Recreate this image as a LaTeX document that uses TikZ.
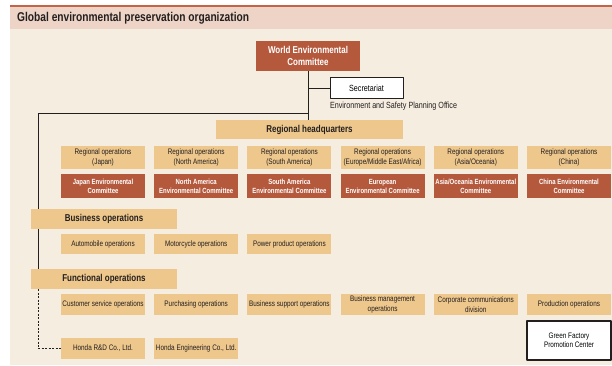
\documentclass[tikz,border=0pt]{standalone}
\usepackage{fontspec}
\setmainfont{Liberation Sans}[FakeStretch=0.8]
\usepackage{tikz}
\usetikzlibrary{arrows,shapes}
\pgfdeclarelayer{back}
\pgfdeclarelayer{edges}
\pgfsetlayers{back,edges,main}

\begin{document}
\begin{tikzpicture}[>=latex,line join=bevel,
  opbox/.style={fill=tancol,text=inkcol,inner sep=0pt,align=center,minimum width=84bp,font=\fontsize{8}{9.5}\selectfont},
  cmtbox/.style={fill=redcol,text=white,inner sep=0pt,align=center,minimum width=84bp,minimum height=24bp,font=\bfseries\fontsize{7.5}{9}\selectfont},
  headbox/.style={fill=tancol,text=inkcol,inner sep=0pt,minimum width=146bp,minimum height=20bp,font=\bfseries\fontsize{10}{12}\selectfont},
  whitebox/.style={fill=white,draw=inkcol,inner sep=0pt,align=center,font=\fontsize{8}{9.5}\selectfont}]
  \pgfsetlinewidth{1.2bp}
  \definecolor{tancol}{rgb}{0.93,0.78,0.55}
  \definecolor{redcol}{rgb}{0.71,0.35,0.24}
  \definecolor{inkcol}{rgb}{0.14,0.12,0.12}
  \useasboundingbox (0bp,0bp) rectangle (612bp,366bp);
%%
\begin{pgfonlayer}{back}
\begin{scope}
  \definecolor{fillcol}{rgb}{0.96,0.93,0.88};
  \fill [fillcol] (10bp,1bp) rectangle (612bp,337bp);
  \definecolor{fillcol}{rgb}{0.93,0.83,0.78};
  \fill [fillcol] (10bp,337bp) rectangle (612bp,359bp);
  \definecolor{strokecol}{rgb}{0.77,0.39,0.27};
  \draw [strokecol,line width=2bp] (10bp,360bp) -- (612bp,360bp);
\end{scope}
\end{pgfonlayer}
  % Node: title
  \node [anchor=base west,inner sep=0pt,text=inkcol,font=\bfseries\fontsize{12.8}{15}\selectfont] (title) at (17bp,344.5bp) {Global environmental preservation organization};
  % Node: wec
  \node [cmtbox,minimum width=104bp,minimum height=30bp,font=\bfseries\fontsize{10}{11.5}\selectfont] (wec) at (308bp,310bp) {World Environmental\\Committee};
  % Node: sec
  \node [whitebox,minimum width=73bp,minimum height=21bp,font=\fontsize{9}{11}\selectfont] (sec) at (366.5bp,278bp) {Secretariat};
  \node [anchor=west,inner sep=0pt,text=inkcol,font=\fontsize{9}{11}\selectfont] (espo) at (sec.west |- 0bp,260bp) {Environment and Safety Planning Office};
  % Node: rhq
  \node [headbox,minimum width=187bp,minimum height=19bp] (rhq) at (309.5bp,236.5bp) {Regional headquarters};
%%
  % Node: regional operations
  \node [opbox,minimum height=23bp] (rjp) at (103bp,208.5bp) {Regional operations\\(Japan)};
  \node [opbox,minimum height=23bp] (rna) at (196.2bp,208.5bp) {Regional operations\\(North America)};
  \node [opbox,minimum height=23bp] (rsa) at (289.4bp,208.5bp) {Regional operations\\(South America)};
  \node [opbox,minimum height=23bp] (reu) at (382.6bp,208.5bp) {Regional operations\\(Europe/Middle East/Africa)};
  \node [opbox,minimum height=23bp] (rao) at (475.8bp,208.5bp) {Regional operations\\(Asia/Oceania)};
  \node [opbox,minimum height=23bp] (rcn) at (569bp,208.5bp) {Regional operations\\(China)};
  % Node: regional committees
  \node [cmtbox] (cjp) at (103bp,180bp) {Japan Environmental\\Committee};
  \node [cmtbox] (cna) at (196.2bp,180bp) {North America\\Environmental Committee};
  \node [cmtbox] (csa) at (289.4bp,180bp) {South America\\Environmental Committee};
  \node [cmtbox] (ceu) at (382.6bp,180bp) {European\\Environmental Committee};
  \node [cmtbox] (cao) at (475.8bp,180bp) {Asia/Oceania Environmental\\Committee};
  \node [cmtbox] (ccn) at (569bp,180bp) {China Environmental\\Committee};
%%
  % Node: bzop
  \node [headbox] (bzop) at (104bp,147bp) {Business operations};
  \node [opbox,minimum height=20bp] (auto) at (103bp,122bp) {Automobile operations};
  \node [opbox,minimum height=20bp] (moto) at (196.2bp,122bp) {Motorcycle operations};
  \node [opbox,minimum height=20bp] (powr) at (289.4bp,122bp) {Power product operations};
%%
  % Node: fnop
  \node [headbox] (fnop) at (104bp,87bp) {Functional operations};
  \node [opbox,minimum height=21bp] (cust) at (103bp,61.5bp) {Customer service operations};
  \node [opbox,minimum height=21bp] (purc) at (196.2bp,61.5bp) {Purchasing operations};
  \node [opbox,minimum height=21bp] (supp) at (289.4bp,61.5bp) {Business support operations};
  \node [opbox,minimum height=21bp] (mgmt) at (382.6bp,61.5bp) {Business management\\operations};
  \node [opbox,minimum height=21bp] (comm) at (475.8bp,61.5bp) {Corporate communications\\division};
  \node [opbox,minimum height=21bp] (prod) at (569bp,61.5bp) {Production operations};
  % Node: gfpc
  \node [whitebox,line width=1.5bp,minimum width=84bp,minimum height=39bp] (gfpc) at (569bp,25.5bp) {Green Factory\\Promotion Center};
%%
  % Node: rnd
  \node [opbox,minimum height=21bp] (rnd) at (103bp,17.5bp) {Honda R\&D Co., Ltd.};
  \node [opbox,minimum height=21bp] (eng) at (196.2bp,17.5bp) {Honda Engineering Co., Ltd.};
%%
  \coordinate (split) at (wec.south |- 0bp,253bp);
  \coordinate (corner) at (38bp,253bp);
\begin{pgfonlayer}{edges}
  \pgfsetstrokecolor{inkcol}
  % Edge: wec -> rhq
  \draw (wec.south) -- (wec.south |- rhq.north);
  % Edge: wec -> sec
  \draw (wec.south |- sec.west) -- (sec.west);
  % Edge: split -> fnop
  \draw (split) -- (corner) -- (corner |- fnop.south);
  % Edge: fnop -> rnd
  \draw [dash pattern=on 2bp off 1.5bp] (corner |- fnop.south) |- (rnd.west);
\end{pgfonlayer}
%
\end{tikzpicture}
\end{document}
